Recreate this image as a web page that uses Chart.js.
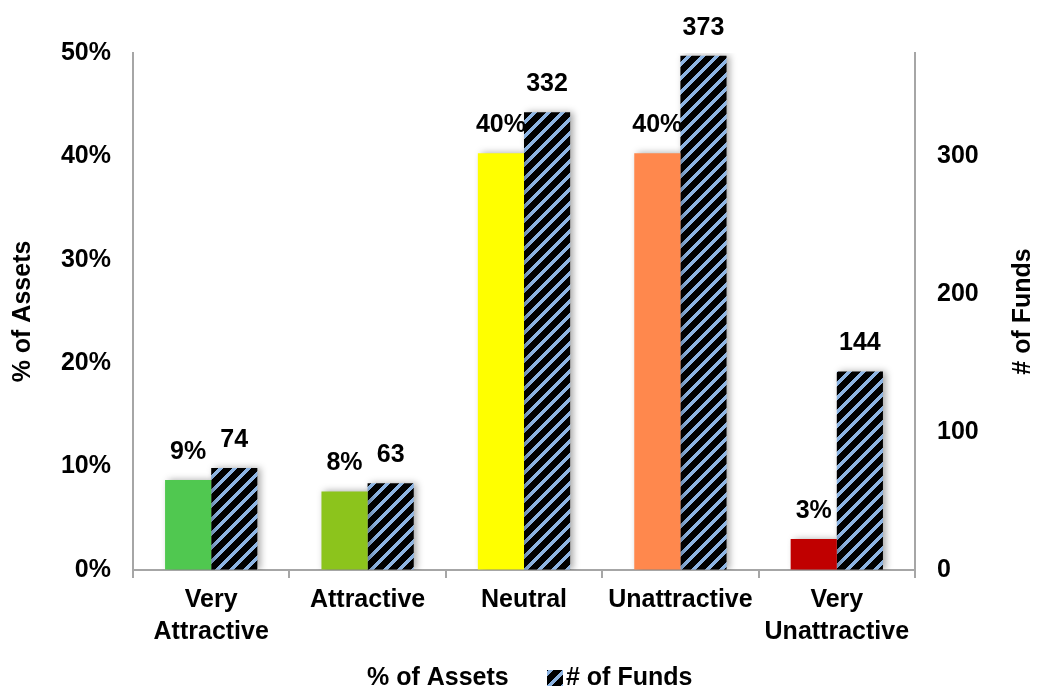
<!DOCTYPE html>
<html>
<head>
<meta charset="utf-8">
<script src="https://cdn.jsdelivr.net/npm/chart.js@4"></script>
<style>
  html, body { margin: 0; padding: 0; background: #fff; }
  #wrap { width: 1039px; height: 692px; }
</style>
</head>
<body>
<div id="wrap"><canvas id="myChart" width="1039" height="692"></canvas></div>
<script>
// data
var categories = [['Very', 'Attractive'], 'Attractive', 'Neutral', 'Unattractive', ['Very', 'Unattractive']]
var assetPct = [8.7, 7.6, 40.3, 40.3, 3.0]
var assetLabels = ['9%', '8%', '40%', '40%', '3%']
var fundCount = [74, 63, 332, 373, 144]
var barColors = ['#50c850', '#8cc41c', '#ffff00', '#ff884d', '#c00000']
var pctTicks = [0, 10, 20, 30, 40, 50]
var fundTicks = [0, 100, 200, 300]
var seriesNames = ['% of Assets', '# of Funds']

var FONT = 'Liberation Sans, Arial, sans-serif'
var AXIS_GRAY = '#a6a6a6'

// black with light blue "/" stripes, drawn pixel by pixel so they stay crisp
function makeHatch() {
  var n = 14, w = 5
  var c = document.createElement('canvas')
  c.width = n
  c.height = n
  var g = c.getContext('2d')
  var img = g.createImageData(n, n)
  for (var y = 0; y < n; y++) {
    for (var x = 0; x < n; x++) {
      var k = (y * n + x) * 4
      var blue = ((x + y) % n) < w
      img.data[k] = blue ? 141 : 0
      img.data[k + 1] = blue ? 180 : 0
      img.data[k + 2] = blue ? 226 : 0
      img.data[k + 3] = 255
    }
  }
  g.putImageData(img, 0, 0)
  return g.createPattern(c, 'repeat')
}
var hatch = makeHatch()

// soft shadow behind bars
var shadowPlugin = {
  id: 'barShadow',
  beforeDatasetsDraw: function (chart) {
    var ctx = chart.ctx
    ctx.save()
    ctx.shadowColor = 'rgba(0,0,0,0.35)'
    ctx.shadowBlur = 7
    ctx.shadowOffsetX = 3
    ctx.shadowOffsetY = 0
  },
  afterDatasetsDraw: function (chart) {
    chart.ctx.restore()
  }
}

// numbers above bars
var labelPlugin = {
  id: 'barLabels',
  afterDatasetsDraw: function (chart) {
    var ctx = chart.ctx
    ctx.save()
    ctx.font = 'bold 25px ' + FONT
    ctx.fillStyle = '#000'
    ctx.textAlign = 'center'
    ctx.textBaseline = 'middle'
    chart.data.datasets.forEach(function (ds, di) {
      chart.getDatasetMeta(di).data.forEach(function (el, i) {
        var txt = di === 0 ? assetLabels[i] : String(fundCount[i])
        ctx.fillText(txt, el.x, el.y - 28)
      })
    })
    ctx.restore()
  }
}

// right axis title reads bottom-to-top, and the legend
var extrasPlugin = {
  id: 'extras',
  afterDraw: function (chart) {
    var ctx = chart.ctx
    var area = chart.chartArea
    ctx.save()
    ctx.font = 'bold 25px ' + FONT
    ctx.fillStyle = '#000'
    ctx.textBaseline = 'middle'

    ctx.save()
    ctx.translate(1023, (area.top + area.bottom) / 2)
    ctx.rotate(-Math.PI / 2)
    ctx.textAlign = 'center'
    ctx.fillText(seriesNames[1], 0, 0)
    ctx.restore()

    var ly = 678
    ctx.textAlign = 'left'
    ctx.fillText(seriesNames[0], 367, ly)
    ctx.fillStyle = hatch
    ctx.fillRect(547, ly - 8, 16, 16)
    ctx.fillStyle = '#000'
    ctx.fillText(seriesNames[1], 566, ly)
    ctx.restore()
  }
}

var ctx = document.getElementById('myChart').getContext('2d')
var chart = new Chart(ctx, {
  type: 'bar',
  data: {
    labels: categories,
    datasets: [{
      label: seriesNames[0],
      data: assetPct,
      backgroundColor: barColors,
      yAxisID: 'y',
      barPercentage: 1,
      categoryPercentage: 0.59
    }, {
      label: seriesNames[1],
      data: fundCount,
      backgroundColor: hatch,
      yAxisID: 'y1',
      barPercentage: 1,
      categoryPercentage: 0.59
    }]
  },
  options: {
    responsive: false,
    animation: false,
    layout: { padding: { top: 53, bottom: 42, left: 0, right: 0 } },
    plugins: {
      tooltip: { enabled: false },
      legend: { display: false }
    },
    scales: {
      x: {
        grid: { display: true, drawOnChartArea: false, color: AXIS_GRAY, lineWidth: 2, tickLength: 8 },
        border: { display: true, color: AXIS_GRAY, width: 2 },
        ticks: { color: '#000', font: { family: FONT, size: 25, weight: 'bold', lineHeight: 1.28 }, padding: 6, maxRotation: 0, autoSkip: false },
        afterFit: function (s) { s.height = 80 }
      },
      y: {
        position: 'left',
        min: 0,
        max: 50,
        grid: { display: true, drawOnChartArea: false, drawTicks: false },
        border: { display: true, color: AXIS_GRAY, width: 2 },
        afterBuildTicks: function (s) { s.ticks = pctTicks.map(function (v) { return { value: v } }) },
        ticks: {
          color: '#000',
          font: { family: FONT, size: 25, weight: 'bold' },
          padding: 22,
          callback: function (v) { return v + '%' }
        },
        title: { display: true, text: seriesNames[0], color: '#000', font: { family: FONT, size: 25, weight: 'bold' }, padding: { top: 8, bottom: 0 } },
        afterFit: function (s) { s.width = 133 }
      },
      y1: {
        position: 'right',
        min: 0,
        max: 375,
        grid: { display: true, drawOnChartArea: false, drawTicks: false },
        border: { display: true, color: AXIS_GRAY, width: 2 },
        afterBuildTicks: function (s) { s.ticks = fundTicks.map(function (v) { return { value: v } }) },
        ticks: {
          color: '#000',
          font: { family: FONT, size: 25, weight: 'bold' },
          padding: 22
        },
        afterFit: function (s) { s.width = 124 }
      }
    }
  },
  plugins: [shadowPlugin, labelPlugin, extrasPlugin]
})
</script>
</body>
</html>
